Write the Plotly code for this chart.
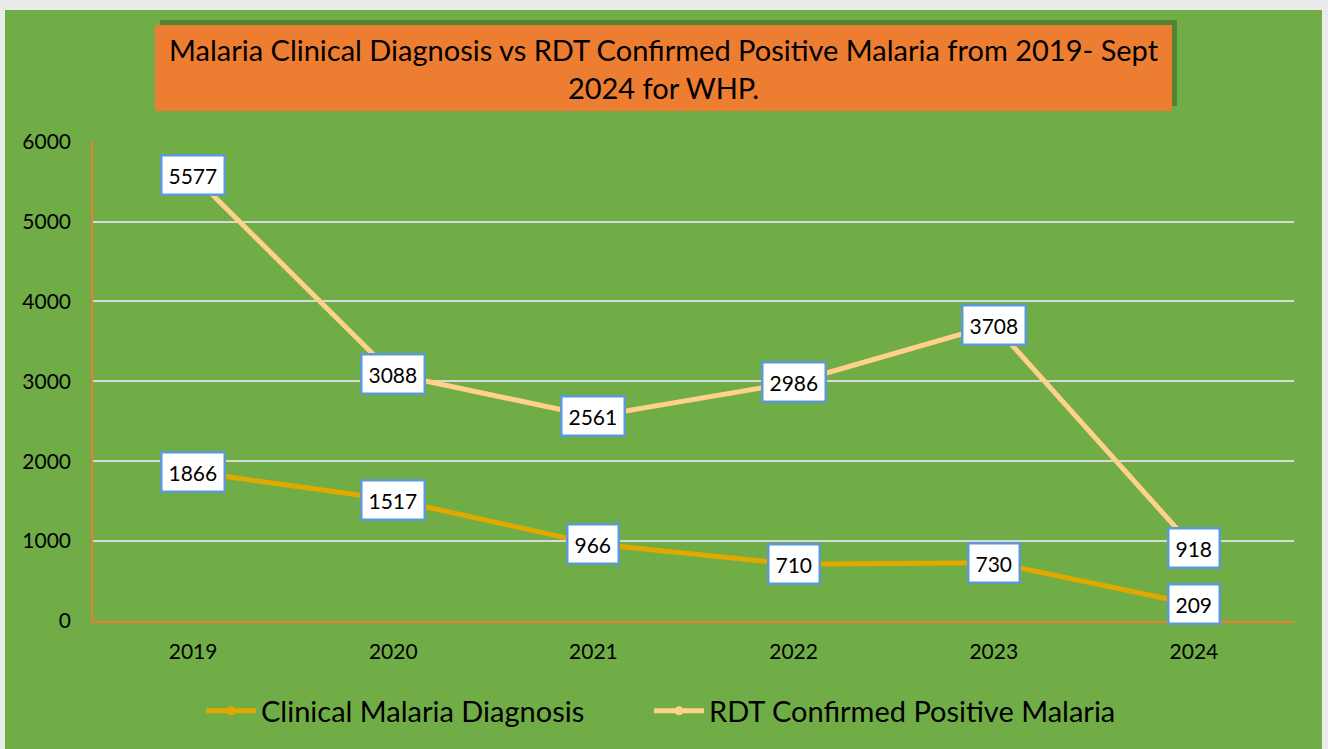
import plotly.graph_objects as go

years = ["2019", "2020", "2021", "2022", "2023", "2024"]
clinical = [1866, 1517, 966, 710, 730, 209]
rdt = [5577, 3088, 2561, 2986, 3708, 918]
y_ticks = [0, 1000, 2000, 3000, 4000, 5000, 6000]

FONT = "Lato, 'Open Sans', 'DejaVu Sans', sans-serif"
W, H = 1328, 749
L, R, T, B = 93, 34, 141, 128
PW, PH = W - L - R, H - T - B

def px(x):
    return (x - L) / PW

def py(y):
    return (H - B - y) / PH

fig = go.Figure()
fig.add_trace(go.Scatter(x=years, y=clinical, name="Clinical Malaria Diagnosis",
                         mode="lines+markers", line=dict(color="#E2A800", width=5),
                         marker=dict(size=9, color="#E2A800"), legend="legend"))
fig.add_trace(go.Scatter(x=years, y=rdt, name="RDT Confirmed Positive Malaria",
                         mode="lines+markers", line=dict(color="#FFD18A", width=5),
                         marker=dict(size=9, color="#FFD18A"), legend="legend2"))

annotations = []
for series in (clinical, rdt):
    for i, yv in enumerate(series):
        annotations.append(dict(x=i, y=yv, text=str(yv), showarrow=False,
                                xref="x", yref="y",
                                font=dict(family=FONT, size=21, color="black"),
                                bgcolor="white", bordercolor="#5B9BD5",
                                borderwidth=2.5, borderpad=6))

annotations.append(dict(xref="paper", yref="paper",
                        x=(px(155) + px(1172)) / 2, y=py(68),
                        text="Malaria Clinical Diagnosis vs RDT Confirmed Positive Malaria from 2019- Sept<br>2024 for WHP.",
                        showarrow=False, align="center", xanchor="center", yanchor="middle",
                        font=dict(family=FONT, size=29, color="black")))

shapes = [
    dict(type="rect", xref="paper", yref="paper", layer="below",
         x0=px(5), x1=px(1322), y0=py(749), y1=py(10),
         fillcolor="#70AD47", line=dict(width=0)),
    dict(type="rect", xref="paper", yref="paper", layer="below",
         x0=px(160), x1=px(1177), y0=py(106), y1=py(20),
         fillcolor="rgba(40,70,25,0.4)", line=dict(width=0)),
    dict(type="rect", xref="paper", yref="paper", layer="below",
         x0=px(155), x1=px(1172), y0=py(111), y1=py(25),
         fillcolor="#ED7D31", line=dict(width=0)),
]

legend_common = dict(orientation="h", xanchor="left", y=py(711), yanchor="middle",
                     font=dict(family=FONT, size=29, color="black"),
                     bgcolor="rgba(0,0,0,0)", itemwidth=50)

fig.update_layout(
    width=W, height=H,
    margin=dict(l=L, r=R, t=T, b=B),
    paper_bgcolor="#EBEBEB",
    plot_bgcolor="rgba(0,0,0,0)",
    font=dict(family=FONT, color="black"),
    showlegend=True,
    legend=dict(x=px(201), **legend_common),
    legend2=dict(x=px(649), **legend_common),
    annotations=annotations,
    shapes=shapes,
    xaxis=dict(type="category", range=[-0.5, 5.5], showgrid=False,
               showline=True, linecolor="#ED7D31", linewidth=1.5,
               ticks="", tickfont=dict(family=FONT, size=21, color="black"),
               ticklabelstandoff=11, zeroline=False),
    yaxis=dict(range=[0, 6008], tickvals=y_ticks, showgrid=True,
               gridcolor="#D9D9D9", gridwidth=2,
               showline=True, linecolor="#ED7D31", linewidth=1.5,
               ticks="", tickfont=dict(family=FONT, size=21, color="black"),
               ticklabelstandoff=16, zeroline=False),
)

fig.write_html("out.html", config={"displayModeBar": False},
               post_script="document.body.style.margin='0';document.body.style.padding='0';")
